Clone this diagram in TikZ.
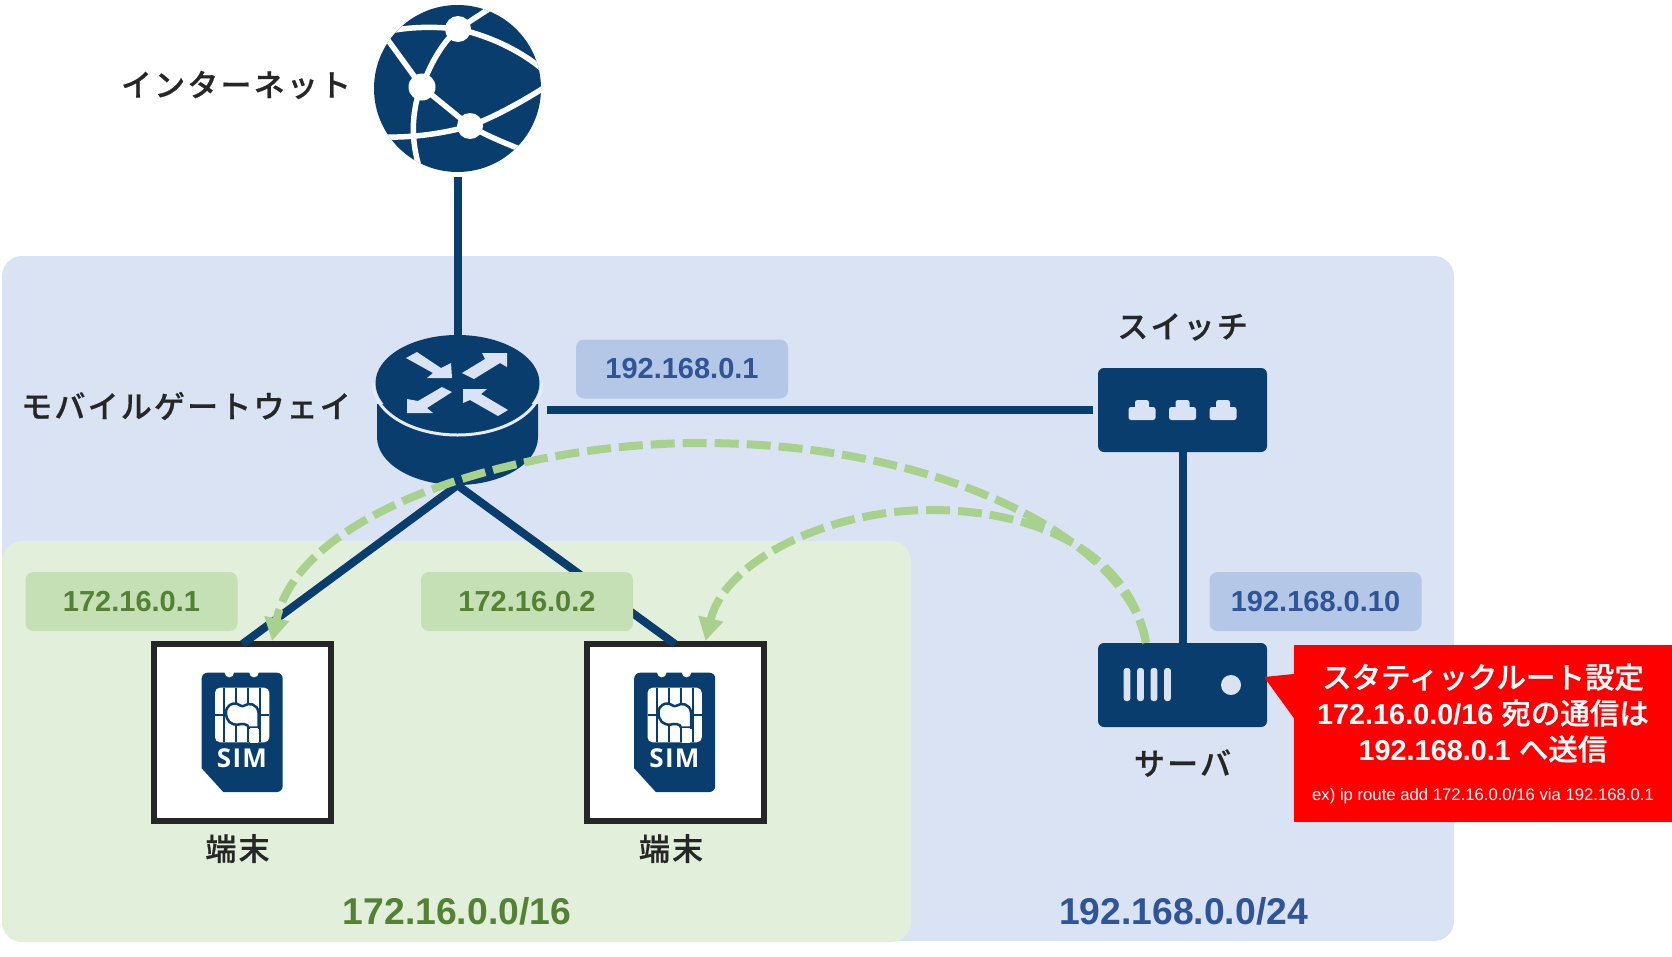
\documentclass[tikz,border=0pt]{standalone}
\usepackage{xcolor}
\usepackage{fontspec}
\setmainfont{Liberation Sans}
\newfontfamily\jpfont[FakeBold=0.6]{Noto Sans CJK JP Medium}
\newfontfamily\jpspaced[LetterSpace=7,FakeBold=0.6]{Noto Sans CJK JP Medium}
\newfontfamily\simfont[LetterSpace=5]{Open Sans}
\usetikzlibrary{arrows.meta, positioning}

\definecolor{navy}{HTML}{083D6D}
\definecolor{inkdark}{HTML}{262626}
\definecolor{panelblue}{HTML}{DAE3F3}
\definecolor{panelgreen}{HTML}{E2EFDA}
\definecolor{tagblue}{HTML}{B4C7E7}
\definecolor{taggreen}{HTML}{C5E0B4}
\definecolor{textblue}{HTML}{2F5597}
\definecolor{textgreen}{HTML}{548235}
\definecolor{routegreen}{HTML}{A9D18E}

\tikzset{
    simcard/.pic={
        % card body with notches and cut corner
        \fill[navy] (-40.8,-54) arc[start angle=180,end angle=270,radius=5.8] -- (-18,-59.8)
            arc[start angle=180,end angle=0,radius=4.8] -- (6.7,-59.8)
            arc[start angle=180,end angle=0,radius=4.8] -- (34.4,-59.8)
            arc[start angle=270,end angle=360,radius=5.8] -- (40.2,53.7)
            arc[start angle=0,end angle=90,radius=5.8] -- (-19.2,59.5) -- (-40.8,35.8) -- cycle;
        % contact pad
        \fill[white, rounded corners=5pt] (-27.5,-44.8) rectangle (26.8,9.8);
        \draw[navy, line width=2pt]
            (-18.5,-44.8) -- (-18.5,9.8)
            (-6.5,-44.8) -- (-6.5,-28) (-6.5,-7) -- (-6.5,9.8)
            (5.8,-44.8) -- (5.8,-28) (5.8,-7) -- (5.8,9.8)
            (17.5,-44.8) -- (17.5,9.8)
            (-27.5,-17.5) -- (-16,-17.5) (16,-17.5) -- (26.8,-17.5);
        \fill[white, draw=navy, line width=2.5pt] (-16.5,-20)
            .. controls (-16.5,-27) and (-10,-30) .. (-6,-29)
            .. controls (-3,-28) and (-1,-25) .. (2,-27)
            .. controls (6,-30) and (15,-29) .. (16,-20)
            .. controls (16.5,-15) and (16,-10) .. (16,-5)
            -- (6,-5) .. controls (6,-9) and (-2,-9) .. (-4,-8)
            .. controls (-12,-7) and (-16.5,-12) .. (-16.5,-20) -- cycle;
        \fill[white] (7,-5) rectangle (15,10);
        \node[simtext] (-simlabel) at (-0.5,25.5) {SIM};
    }
}

\begin{document}
\begin{tikzpicture}[
    x=1pt, y=-1pt,
    panel/.style={rounded corners=20pt, minimum width=#1, inner sep=0pt},
    iptag/.style={rounded corners=8pt, minimum width=212pt, minimum height=59pt, inner sep=0pt,
        font=\fontsize{29}{34}\selectfont\bfseries},
    nettext/.style={inner sep=0pt, font=\fontsize{37.3}{44}\selectfont\bfseries},
    device/.style={fill=navy, rounded corners=6pt, inner sep=0pt, minimum width=169pt},
    terminal/.style={draw=inkdark, fill=white, line width=6pt, minimum size=177pt, inner sep=0pt},
    devlabel/.style={inner sep=0pt, text=inkdark, font=\fontsize{31}{36}\selectfont\jpspaced},
    simtext/.style={inner sep=0pt, text=white, font=\fontsize{26}{30}\selectfont\simfont\bfseries},
    link/.style={draw=navy, line width=8pt},
    route/.style={draw=routegreen, line width=8pt, dash pattern=on 24pt off 8pt,
        -{Triangle[length=23pt,width=24pt]}},
    earthline/.style={draw=white, line width=5.5pt},
    arrowmark/.style={fill=panelblue},
    portmark/.style={fill=panelblue, rounded corners=2.5pt}
]
% networks
\node[panel=1452pt, fill=panelblue, minimum height=685pt] (lan) at (728,598.5) {};
\node[panel=909pt, fill=panelgreen, minimum height=401pt] (mobile) at (456.5,741.5) {};
\node[nettext, text=textblue] (lanname) at (1183.5,911) {192.168.0.0/24};
\node[nettext, text=textgreen] (mobilename) at (457,911) {172.16.0.0/16};

% devices
\node[circle, fill=navy, minimum size=167pt, inner sep=0pt] (internet) at (457.5,88.5) {};
\node[minimum width=164pt, minimum height=150pt, inner sep=0pt] (gateway) at (457.5,410) {};
\node[device, minimum height=84pt] (switch) at (1182.5,410) {};
\node[device, minimum height=84pt] (server) at (1182.5,685) {};
\node[terminal] (termA) at (242.5,732.5) {};
\node[terminal] (termB) at (675,732.5) {};

% globe
\begin{scope}
    \clip (457.5,88.5) circle[radius=83.5];
    \draw[earthline] (380,33) .. controls (405,27) and (430,26) .. (458,29);
    \draw[earthline] (385,36) -- (422,87);
    \draw[earthline] (458,29) -- (495,5);
    \draw[earthline] (458,29) .. controls (490,36) and (525,52) .. (550,76);
    \draw[earthline] (458,29) .. controls (443,42) and (431,62) .. (422,87);
    \draw[earthline] (422,87) -- (470,126);
    \draw[earthline] (470,126) .. controls (495,117) and (525,100) .. (550,84);
    \draw[earthline] (470,126) .. controls (487,136) and (505,143) .. (522,150);
    \draw[earthline] (470,126) .. controls (445,133) and (415,138) .. (380,137);
    \draw[earthline] (419,92) .. controls (411,118) and (411,145) .. (422,176);
    \fill[white] (458,29) circle[radius=13] (422,87) circle[radius=13.5] (470,126) circle[radius=13];
\end{scope}

% gateway drum
\fill[navy] (377,404) -- (377,437) arc[x radius=80.5, y radius=48, start angle=180, end angle=0] -- (538,404) -- cycle;
\draw[panelblue!70!white, line width=3pt] (373,383) arc[x radius=84.5, y radius=52, start angle=180, end angle=0];
\fill[navy] (457.5,383) ellipse[x radius=82, y radius=48];
\fill[arrowmark] (406,358) -- (417,352) -- (441,368) -- (451,363) -- (452,378) -- (427,378) -- (433,373) -- cycle;
\fill[arrowmark] (462,373) -- (485,359) -- (482,353) -- (507,353) -- (507,367) -- (500,363) -- (474,379) -- cycle;
\fill[arrowmark] (452,392) -- (442,387) -- (418,401) -- (407,399) -- (407,413) -- (433,413) -- (427,408) -- cycle;
\fill[arrowmark] (463,389) -- (487,389) -- (481,394) -- (508,410) -- (498,416) -- (470,400) -- (463,403) -- cycle;

% switch ports
\foreach \portx in {1142,1182.5,1223} {
    \fill[portmark] (\portx-13.5,407) rectangle (\portx+13.5,420);
    \fill[portmark] (\portx-7,400) rectangle (\portx+7,412);
}

% server front
\foreach \barx in {1127,1140.5,1154,1167.5} {
    \fill[portmark] (\barx-3.3,668) rectangle (\barx+3.3,701);
}
\fill[panelblue] (1231,685) circle[radius=10];

% sim cards
\pic (simA) at (242.5,732.5) {simcard};
\pic (simB) at (675,732.5) {simcard};

% links
\draw[link, shorten <=5pt] (internet.south) -- (gateway.north);
\draw[link, shorten <=7pt, shorten >=5pt] (gateway.east) -- (switch.west);
\draw[link] (switch.south) -- (server.north);
\draw[link] (gateway.south) -- ([yshift=-3pt]termA.north);
\draw[link] (gateway.south) -- ([yshift=-3pt]termB.north);

% address tags
\node[iptag, fill=tagblue, text=textblue] (gwaddr) at (682,369) {192.168.0.1};
\node[iptag, fill=tagblue, text=textblue] (srvaddr) at (1315.5,601.5) {192.168.0.10};
\node[iptag, fill=taggreen, text=textgreen] (termAaddr) at (131.5,601.5) {172.16.0.1};
\node[iptag, fill=taggreen, text=textgreen] (termBaddr) at (527,601.5) {172.16.0.2};

% device names
\node[devlabel] (internetname) at (236,85) {インターネット};
\node[devlabel, anchor=east] (gatewayname) at (351,406) {モバイルゲートウェイ};
\node[devlabel, above=27pt of switch] (switchname) {スイッチ};
\node[devlabel, below=22pt of server] (servername) {サーバ};
\node[devlabel, below=10pt of termA, xshift=-5pt] (termAname) {端末};
\node[devlabel, below=10pt of termB, xshift=-4pt] (termBname) {端末};

% routes from the server
\coordinate (srvout) at ([xshift=-36.5pt]server.north);
\coordinate (termAin) at ([xshift=29.5pt]termA.north);
\coordinate (termBin) at ([xshift=30.5pt]termB.north);
\draw[route] (srvout) .. controls (1130,545) and (950,443) .. (700,443)
    .. controls (520,443) and (300,510) .. (termAin);
\draw[route] (srvout) .. controls (1130,555) and (1040,510) .. (930,510)
    .. controls (830,510) and (725,560) .. (termBin);

% note
\node[fill=red, minimum width=378pt, minimum height=177pt, inner sep=0pt] (note) at (1483,733.5) {};
\fill[red] (1264,677) -- ([yshift=59.5pt]note.west) -- ([yshift=15.5pt]note.west) -- cycle;
\node[align=center, inner sep=0pt, text=white, font=\fontsize{28.8}{36}\selectfont\bfseries] (notetext) at (1483,713)
    {{\jpfont\mdseries\fontsize{29.5}{36}\selectfont スタティックルート設定}\\172.16.0.0/16 {\jpfont\mdseries\fontsize{29.5}{36}\selectfont 宛の通信は}\\192.168.0.1 {\jpfont\mdseries\fontsize{29.5}{36}\selectfont へ送信}};
\node[inner sep=0pt, text=white, font=\fontsize{16.7}{20}\selectfont] (notecmd) at (1483,796)
    {ex) ip route add 172.16.0.0/16 via 192.168.0.1};
\useasboundingbox (0,0) rectangle (1672,956);
\end{tikzpicture}
\end{document}
